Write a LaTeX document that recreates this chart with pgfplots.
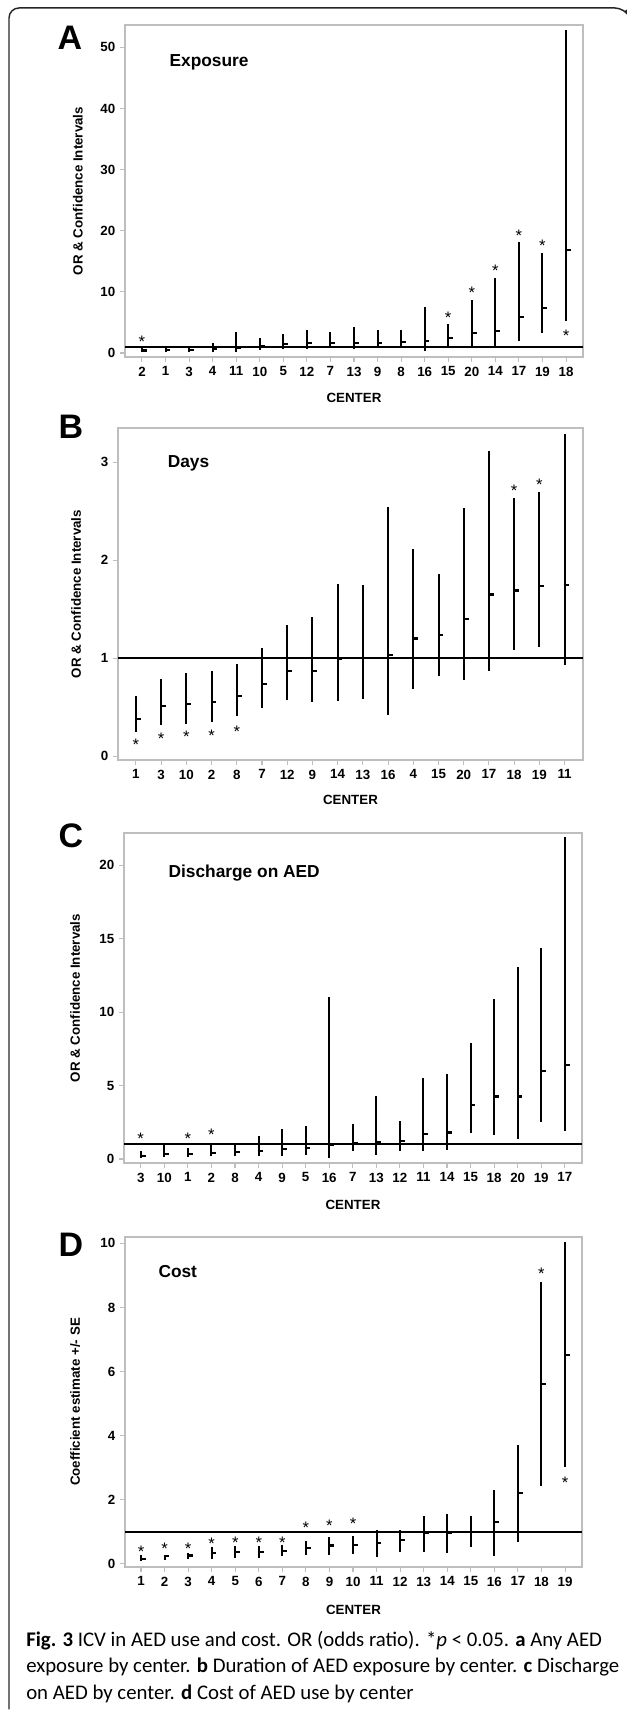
\documentclass[border=0pt]{standalone}
\usepackage{fontspec}
\setmainfont{Liberation Sans}
\newfontfamily\capfont{Carlito}
\usepackage{pgfplots}
\pgfplotsset{compat=1.18}
\usepackage{pgfplotstable}
\definecolor{boxgray}{RGB}{190,190,190}

% short tick to the right of the CI line marks the estimate
\pgfdeclareplotmark{est}{%
  \pgfpathmoveto{\pgfqpoint{-0.7pt}{0pt}}%
  \pgfpathlineto{\pgfqpoint{3.6pt}{0pt}}%
  \pgfusepathqstroke}

% x = position, lo / est / hi
\pgfplotstableread{
x lo est hi
0 0.2 0.4 1.0
1 0.2 0.5 1.0
2 0.2 0.5 1.0
3 0.2 0.6 1.7
4 0.2 0.8 3.4
5 0.5 1.2 2.5
6 0.6 1.5 3.1
7 0.6 1.6 3.8
8 0.8 1.7 3.4
9 0.7 1.7 4.3
10 0.8 1.7 3.7
11 0.9 1.8 3.7
12 0.4 2.0 7.5
13 1.2 2.5 4.7
14 1.2 3.3 8.6
15 1.1 3.6 12.3
16 2.0 5.9 18.2
17 3.3 7.4 16.4
18 5.3 16.9 52.9
}\tabA
\pgfplotstableread{
x y
0 2.45
13 6.4
14 10.4
15 14.1
16 19.7
17 18.1
18 3.5
}\starA

\pgfplotstableread{
x lo est hi
0 0.25 0.38 0.61
1 0.32 0.51 0.79
2 0.33 0.53 0.85
3 0.35 0.55 0.87
4 0.41 0.61 0.94
5 0.49 0.74 1.10
6 0.57 0.87 1.34
7 0.55 0.87 1.42
8 0.56 0.99 1.76
9 0.58 1.00 1.75
10 0.42 1.03 2.54
11 0.68 1.20 2.11
12 0.82 1.24 1.86
13 0.78 1.40 2.53
14 0.87 1.65 3.12
15 1.08 1.69 2.63
16 1.11 1.74 2.70
17 0.93 1.75 3.29
}\tabB
\pgfplotstableread{
x y
0 0.15
1 0.21
2 0.23
3 0.24
4 0.29
15 2.75
16 2.81
}\starB

\pgfplotstableread{
x lo est hi
0 0.07 0.18 0.52
1 0.14 0.36 0.97
2 0.14 0.36 0.75
3 0.18 0.40 0.97
4 0.18 0.48 0.97
5 0.18 0.52 1.59
6 0.23 0.68 2.04
7 0.29 0.75 2.22
8 0.07 0.97 11.0
9 0.52 1.09 2.38
10 0.29 1.13 4.30
11 0.57 1.20 2.56
12 0.52 1.72 5.55
13 0.59 1.81 5.78
14 1.77 3.69 7.88
15 1.65 4.26 10.87
16 1.36 4.26 13.05
17 2.49 6.02 14.40
18 1.88 6.39 21.90
}\tabC
\pgfplotstableread{
x y
0 1.65
2 1.65
3 1.88
}\starC

\pgfplotstableread{
x lo est hi
0 0.08 0.16 0.28
1 0.12 0.23 0.29
2 0.16 0.26 0.33
3 0.16 0.33 0.52
4 0.19 0.36 0.54
5 0.19 0.36 0.57
6 0.24 0.41 0.60
7 0.26 0.50 0.70
8 0.29 0.57 0.85
9 0.31 0.60 0.88
10 0.21 0.64 1.06
11 0.36 0.73 1.06
12 0.38 0.95 1.48
13 0.33 0.95 1.55
14 0.52 0.98 1.48
15 0.23 1.30 2.31
16 0.67 2.20 3.71
17 2.44 5.62 8.79
18 3.03 6.53 10.05
}\tabD
\pgfplotstableread{
x y
0 0.49
1 0.57
2 0.59
3 0.73
4 0.76
5 0.78
6 0.78
7 1.24
8 1.30
9 1.35
17 9.17
18 2.64
}\starD

\pgfplotsset{
  panel/.style={
    anchor=south west, scale only axis, clip=false,
    axis line style={draw=boxgray, line width=0.8pt},
    tick style={draw=boxgray, line width=0.8pt},
    tick align=outside, major tick length=3.75pt,
    xtick pos=lower, ytick pos=left,
    ticklabel style={font=\bfseries\fontsize{10}{12}\selectfont},
    label style={font=\bfseries\fontsize{10}{12}\selectfont},
    /pgf/number format/assume math mode=true,
    xtick={0,...,18},
    xlabel={CENTER},
  },
  ci/.style={only marks, black, mark=est,
    mark options={line width=1.6pt},
    error bars/y dir=both, error bars/y explicit,
    error bars/error mark=none,
    error bars/error bar style={line width=1.5pt, black}},
  stars/.style={only marks, black, mark=text, text mark={*},
    text mark as node=true,
    text mark style={font=\fontsize{12.5}{14}\selectfont, inner sep=0pt, yshift=-2.75pt}},
}
\tikzset{ttl/.style={anchor=west, font=\bfseries\fontsize{13}{15}\selectfont}}

\newcommand{\ciplot}[1]{\addplot[ci] table[x=x, y=est,
  y error plus expr=\thisrow{hi}-\thisrow{est},
  y error minus expr=\thisrow{est}-\thisrow{lo}] {#1};}

\begin{document}
\begin{tikzpicture}
\path[use as bounding box] (0,0) rectangle (470.25pt,1282.5pt);
\draw[line width=1.1pt, black!85, rounded corners=7.5pt]
  (6.75pt,0.5pt) -- (6.75pt,1276.5pt) -- (468.75pt,1276.5pt) -- (469.5pt,1275pt);

% A
\begin{axis}[panel, at={(93.75pt,1014.75pt)}, width=343.5pt, height=249pt,
  xmin=-0.72, xmax=18.72, ymin=-0.65, ymax=53.66,
  ytick={0,10,...,50},
  xticklabels={2,1,3,4,11,10,5,12,7,13,9,8,16,15,20,14,17,19,18},
  ylabel={OR \& Confidence Intervals},
  ylabel style={at={(rel axis cs:-0.103,0.5)}, anchor=center},
  xlabel style={at={(rel axis cs:0.5,-0.123)}, anchor=center}]
\addplot[black, line width=1.7pt] coordinates {(-0.72,1) (18.72,1)};
\ciplot{\tabA}
\addplot[stars] table[x=x, y=y] {\starA};
\node[ttl] at (rel axis cs:0.087,0.886) {Exposure};
\end{axis}

% B
\begin{axis}[panel, at={(88.5pt,712.5pt)}, width=348.75pt, height=249pt,
  xmin=-0.71, xmax=17.73, ymin=-0.04, ymax=3.35,
  ytick={0,1,2,3}, xtick={0,...,17},
  xticklabels={1,3,10,2,8,7,12,9,14,13,16,4,15,20,17,18,19,11},
  ylabel={OR \& Confidence Intervals},
  ylabel style={at={(rel axis cs:-0.09,0.5)}, anchor=center},
  xlabel style={at={(rel axis cs:0.5,-0.12)}, anchor=center}]
\addplot[black, line width=1.7pt] coordinates {(-0.71,1) (17.73,1)};
\ciplot{\tabB}
\addplot[stars] table[x=x, y=y] {\starB};
\node[ttl] at (rel axis cs:0.097,0.895) {Days};
\end{axis}

% C
\begin{axis}[panel, at={(93pt,410.25pt)}, width=343.5pt, height=247.5pt,
  xmin=-0.71, xmax=18.73, ymin=-0.27, ymax=22.2,
  ytick={0,5,...,20},
  xticklabels={3,10,1,2,8,4,9,5,16,7,13,12,11,14,15,18,20,19,17},
  ylabel={OR \& Confidence Intervals},
  ylabel style={at={(rel axis cs:-0.107,0.5)}, anchor=center},
  xlabel style={at={(rel axis cs:0.5,-0.127)}, anchor=center}]
\addplot[black, line width=1.7pt] coordinates {(-0.71,1) (18.73,1)};
\ciplot{\tabC}
\addplot[stars] table[x=x, y=y] {\starC};
\node[ttl] at (rel axis cs:0.087,0.879) {Discharge on AED};
\end{axis}

% D
\begin{axis}[panel, at={(93.75pt,107.25pt)}, width=342.75pt, height=247.5pt,
  xmin=-0.68, xmax=18.72, ymin=-0.1, ymax=10.2,
  ytick={0,2,...,10},
  xticklabels={1,2,3,4,5,6,7,8,9,10,11,12,13,14,15,16,17,18,19},
  ylabel={Coefficient estimate +/- SE},
  ylabel style={at={(rel axis cs:-0.109,0.5)}, anchor=center},
  xlabel style={at={(rel axis cs:0.5,-0.13)}, anchor=center}]
\addplot[black, line width=1.7pt] coordinates {(-0.68,1) (18.72,1)};
\ciplot{\tabD}
\addplot[stars] table[x=x, y=y] {\starD};
\node[ttl] at (rel axis cs:0.063,0.894) {Cost};
\end{axis}

% panel letters
\begin{scope}[every node/.style={font=\bfseries\fontsize{25.5}{28}\selectfont, inner sep=0pt}]
\node at (52.5pt,1254pt) {A};
\node at (53.25pt,962.25pt) {B};
\node at (53.25pt,655.5pt) {C};
\node at (53.25pt,348.75pt) {D};
\end{scope}

% caption
\begin{scope}[every node/.style={anchor=base west, inner sep=0pt, font=\capfont\fontsize{15.6}{18}\selectfont}]
\node at (19.5pt,47.25pt) {\textbf{Fig. 3} ICV in AED use and cost. OR (odds ratio). *\textit{p} < 0.05. \textbf{a} Any AED};
\node at (19.5pt,27.75pt) {exposure by center. \textbf{b} Duration of AED exposure by center. \textbf{c} Discharge};
\node at (19.5pt,8.25pt) {on AED by center. \textbf{d} Cost of AED use by center};
\end{scope}
\end{tikzpicture}
\end{document}
